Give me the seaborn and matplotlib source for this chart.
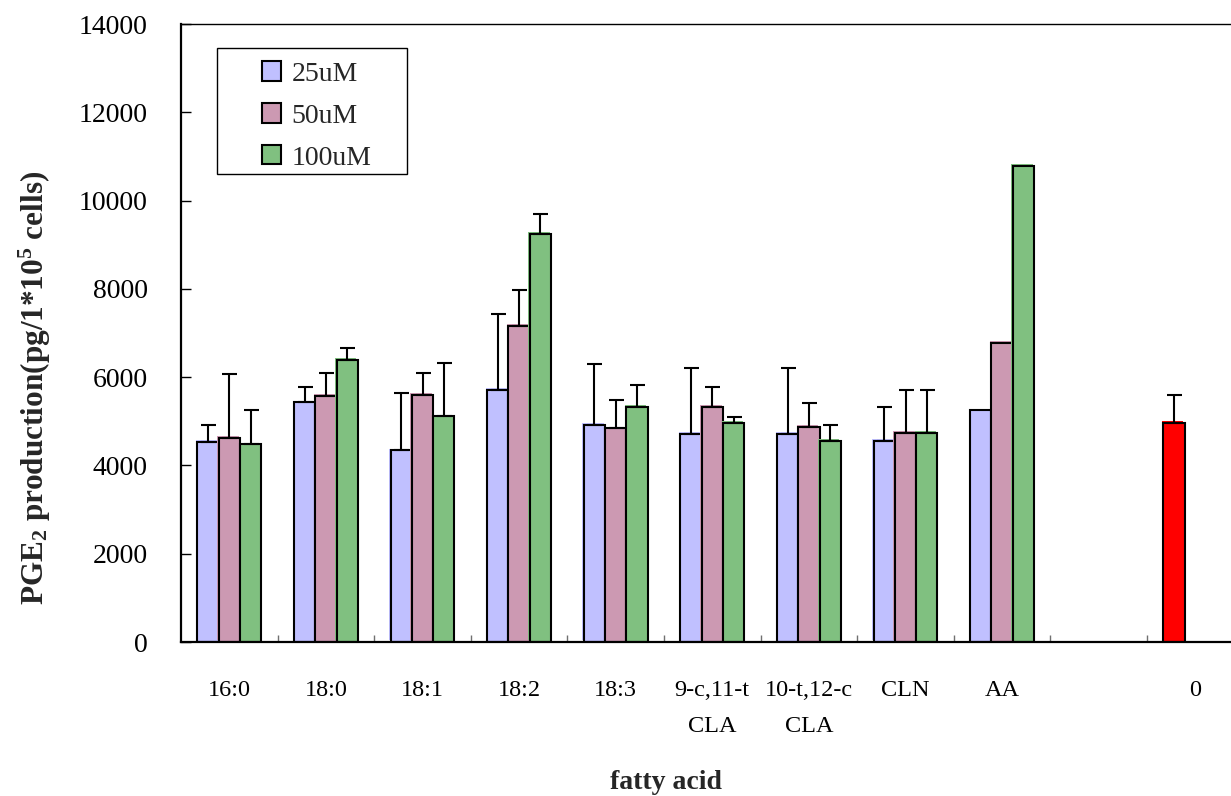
import numpy as np
import pandas as pd
import matplotlib
matplotlib.use("Agg")
import matplotlib.pyplot as plt
import matplotlib.patheffects as pe
from matplotlib.patches import Rectangle
from matplotlib.ticker import FixedLocator
import seaborn as sns

# ---------------- data ----------------
fatty_acids = ["16:0", "18:0", "18:1", "18:2", "18:3",
               "9-c,11-t\nCLA", "10-t,12-c\nCLA", "CLN", "AA"]
spacer_label = " "
control_label = "0"
categories = fatty_acids + [spacer_label, control_label]
conc_levels = ["25uM", "50uM", "100uM"]

mean_25 = [4540, 5430, 4340, 5710, 4920, 4710, 4710, 4560, 5250]
mean_50 = [4630, 5570, 5600, 7160, 4840, 5330, 4880, 4740, 6780]
mean_100 = [4480, 6390, 5110, 9240, 5330, 4970, 4560, 4740, 10780]
err_25 = [380, 350, 1300, 1710, 1370, 1490, 1490, 770, 0]
err_50 = [1430, 530, 500, 810, 640, 450, 540, 960, 0]
err_100 = [770, 270, 1220, 450, 500, 130, 360, 960, 0]
control_mean = 4970
control_err = 630

colors = ["#C0C0FF", "#CC99B2", "#80C080"]
control_color = "#FF0000"

# ---------------- table ----------------
rows = []
for means, errs, conc in zip([mean_25, mean_50, mean_100],
                             [err_25, err_50, err_100], conc_levels):
    for fa, m, e in zip(fatty_acids, means, errs):
        rows.append({"cat": fa, "conc": conc, "value": m, "err": e})
rows.append({"cat": control_label, "conc": conc_levels[0],
             "value": control_mean, "err": control_err})
df = pd.DataFrame(rows)

# ---------------- style ----------------
sns.set_style("white")
plt.rcParams["font.family"] = ["Liberation Serif", "DejaVu Serif"]
plt.rcParams["mathtext.fontset"] = "custom"
plt.rcParams["mathtext.rm"] = "Liberation Serif"
plt.rcParams["mathtext.bf"] = "Liberation Serif:bold"
plt.rcParams["mathtext.it"] = "Liberation Serif:italic"

W, H = 1231, 796
fig = plt.figure(figsize=(W / 100, H / 100), dpi=100)
ax_left, ax_top, ax_bottom = 181, 24, 642
slot = 96.6
ax = fig.add_axes([ax_left / W, (H - ax_bottom) / H,
                   slot * len(categories) / W, (ax_bottom - ax_top) / H])

sns.barplot(data=df, x="cat", y="value", hue="conc", order=categories,
            hue_order=conc_levels, palette=colors, saturation=1,
            width=0.66, gap=0, edgecolor="black", linewidth=1.5,
            errorbar=None, ax=ax, legend=True)

# error lookup
err_map = {(r.cat, r.conc): r.err for r in df.itertuples()}
bar_w = 0.66 / len(conc_levels)
for patch in ax.patches:
    h = patch.get_height()
    if not np.isfinite(h) or h == 0:
        continue
    xc = patch.get_x() + patch.get_width() / 2
    ci = int(round(xc))
    hi = int(round((xc - ci) / bar_w)) + 1
    cat = categories[ci]
    conc = conc_levels[hi]
    fc = patch.get_facecolor()
    if cat == control_label:
        patch.set_facecolor(control_color)
        fc = control_color
    patch.set_path_effects([
        pe.SimplePatchShadow(offset=(-1.0, 1.2), shadow_rgbFace=fc, alpha=1),
        pe.Normal()])
    e = err_map.get((cat, conc), 0)
    if e > 0:
        ax.errorbar([xc], [h], yerr=[[0], [e]], fmt="none", ecolor="black",
                    elinewidth=1.5, capsize=5.4, capthick=1.5, zorder=4)

# ---------------- axes ----------------
ax.set_ylim(0, 14000)
ax.set_xlim(-0.5, len(categories) - 0.5)
ax.set_yticks(np.arange(0, 14001, 2000))
ax.set_xlabel("")
ax.set_ylabel("")
ax.tick_params(axis="y", direction="in", length=7, width=1, pad=24,
               labelsize=20, colors="black", left=True)
ax.tick_params(axis="x", which="major", length=0, pad=27, labelsize=17.5,
               colors="black")
ax.xaxis.set_minor_locator(FixedLocator(np.arange(0.5, len(categories) - 1, 1)))
ax.tick_params(axis="x", which="minor", direction="in", length=5, width=1,
               color="#707070", bottom=True)
for lbl in ax.get_xticklabels():
    lbl.set_linespacing(1.95)
for lbl in ax.get_yticklabels():
    lbl.set_va("center_baseline")

for side in ["left", "bottom"]:
    ax.spines[side].set_linewidth(1.6)
    ax.spines[side].set_color("black")
ax.spines["top"].set_linewidth(1.0)
ax.spines["top"].set_color("black")
ax.spines["right"].set_visible(False)

# ---------------- legend ----------------
handles, labels = ax.get_legend_handles_labels()
ax.legend(handles, labels, loc="upper left",
          bbox_to_anchor=((262 - ax_left) / (slot * len(categories)),
                          (ax_bottom - 61.5) / (ax_bottom - ax_top)),
          frameon=False, fontsize=20, handlelength=0.68, handleheight=0.68,
          handletextpad=0.38, labelspacing=0.6, borderpad=0,
          borderaxespad=0)
aw = slot * len(categories)
ah = ax_bottom - ax_top
ax.add_patch(Rectangle(((217 - ax_left) / aw, (ax_bottom - 174) / ah),
                       (407 - 217) / aw, (174 - 48) / ah,
                       transform=ax.transAxes, fill=False,
                       edgecolor="black", linewidth=1.0, zorder=5))

# ---------------- labels ----------------
fig.text(35 / W, 1 - 388 / H,
         r"PGE$_\mathbf{2}$ production(pg/1*10$^\mathbf{5}$ cells)",
         rotation=90, ha="center", va="center", fontsize=22.5,
         fontweight="bold")
fig.text(666 / W, 1 - 789 / H, "fatty acid", ha="center", va="baseline",
         fontsize=20, fontweight="bold")

fig.savefig("out.png", dpi=100)
